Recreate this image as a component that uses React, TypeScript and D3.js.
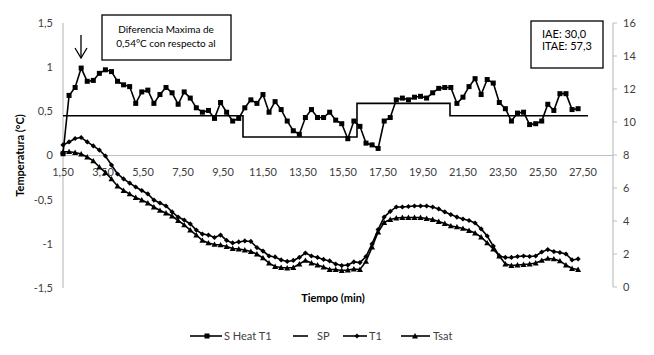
import React from "react";
import * as d3 from "d3";

const W = 654;
const H = 355;

// time of first sample and sampling step (min)
const T0 = 1.5;
const DT = 0.303;

const sHeatT1 = [
  0.02, 0.68, 0.77, 0.99, 0.84, 0.85, 0.93, 0.97, 0.95, 0.84,
  0.80, 0.78, 0.59, 0.72, 0.74, 0.59, 0.69, 0.77, 0.71, 0.58,
  0.72, 0.65, 0.54, 0.49, 0.51, 0.42, 0.60, 0.49, 0.39, 0.42,
  0.54, 0.63, 0.59, 0.69, 0.49, 0.61, 0.52, 0.39, 0.28, 0.24,
  0.43, 0.52, 0.43, 0.43, 0.49, 0.40, 0.36, 0.19, 0.39, 0.33,
  0.14, 0.12, 0.08, 0.39, 0.43, 0.63, 0.65, 0.63, 0.66, 0.67,
  0.65, 0.71, 0.76, 0.77, 0.77, 0.59, 0.66, 0.78, 0.87, 0.69,
  0.86, 0.82, 0.60, 0.53, 0.39, 0.48, 0.49, 0.35, 0.36, 0.39,
  0.58, 0.51, 0.70, 0.70, 0.52, 0.53,
];

const t1 = [
  8.61, 8.79, 9.0, 9.06, 8.79, 8.55, 8.30, 7.94, 7.39, 6.85,
  6.55, 6.30, 6.06, 5.85, 5.64, 5.27, 5.09, 4.91, 4.55, 4.24,
  4.06, 3.82, 3.45, 3.21, 3.15, 3.0, 3.15, 2.82, 2.67, 2.73,
  2.79, 2.76, 2.39, 2.18, 1.88, 1.82, 1.64, 1.55, 1.61, 1.79,
  2.06, 1.88, 1.79, 1.67, 1.58, 1.39, 1.30, 1.33, 1.52, 1.48,
  1.85, 2.61, 3.48, 4.24, 4.58, 4.85, 4.85, 4.88, 4.91, 4.91,
  4.91, 4.85, 4.73, 4.55, 4.39, 4.24, 4.12, 4.03, 3.88, 3.52,
  3.09, 2.48, 1.88, 1.79, 1.79, 1.85, 1.88, 1.85, 1.88, 2.12,
  2.27, 2.15, 2.09, 2.0, 1.64, 1.70,
];

const tSat = [
  8.20, 8.20, 8.15, 8.06, 7.88, 7.64, 7.27, 6.94, 6.55, 6.12,
  5.85, 5.64, 5.42, 5.27, 5.09, 4.85, 4.64, 4.48, 4.30, 4.03,
  3.76, 3.45, 3.15, 2.82, 2.67, 2.58, 2.55, 2.45, 2.33, 2.30,
  2.24, 2.15, 2.0, 1.76, 1.45, 1.24, 1.18, 1.15, 1.18, 1.39,
  1.61, 1.45, 1.33, 1.21, 1.06, 1.06, 1.0, 1.03, 1.09, 1.06,
  1.55, 2.42, 3.33, 3.91, 4.09, 4.18, 4.21, 4.21, 4.21, 4.21,
  4.15, 4.09, 3.97, 3.85, 3.70, 3.64, 3.55, 3.42, 3.27, 3.03,
  2.67, 2.30, 1.88, 1.39, 1.30, 1.33, 1.36, 1.39, 1.45, 1.61,
  1.73, 1.70, 1.58, 1.33, 1.12, 1.06,
];

// set point (step) series
const spTimes = [1.5, 10.5, 10.5, 16.2, 16.2, 20.85, 20.85, 27.75];
const spValues = [0.45, 0.45, 0.21, 0.21, 0.59, 0.59, 0.45, 0.45];

const xTicks = [1.5, 3.5, 5.5, 7.5, 9.5, 11.5, 13.5, 15.5, 17.5, 19.5, 21.5, 23.5, 25.5, 27.5];
const leftTicks = [-1.5, -1, -0.5, 0, 0.5, 1, 1.5];
const rightTicks = [0, 2, 4, 6, 8, 10, 12, 14, 16];

const legendLabels = ["S Heat T1", "SP", "T1", "Tsat"];
const noteLines = ["Diferencia Maxima de", "0,54°C con respecto al"];
const indexLines = ["IAE: 30,0", "ITAE: 57,3"];

const FONT = "Lato, 'Liberation Sans', sans-serif";

const fmt = (v: number, dec: number) => {
  const s = dec > 0 ? v.toFixed(dec) : String(v);
  return s.replace(".", ",");
};

export default function App() {
  const x = d3.scaleLinear().domain([1.5, 29.0]).range([63, 613]);
  const yL = d3.scaleLinear().domain([-1.5, 1.5]).range([288, 23]);
  const yR = d3.scaleLinear().domain([0, 16]).range([287, 23]);

  const times = sHeatT1.map((_, i) => T0 + DT * i);

  const lineL = d3
    .line<[number, number]>()
    .x((d) => x(d[0]))
    .y((d) => yL(d[1]));
  const lineR = d3
    .line<[number, number]>()
    .x((d) => x(d[0]))
    .y((d) => yR(d[1]));

  const sHeatPts: [number, number][] = sHeatT1.map((v, i) => [times[i], v]);
  const t1Pts: [number, number][] = t1.map((v, i) => [times[i], v]);
  const tSatPts: [number, number][] = tSat.map((v, i) => [times[i], v]);
  const spPts: [number, number][] = spValues.map((v, i) => [spTimes[i], v]);

  const square = (cx: number, cy: number, s: number, key: any) => (
    <rect key={key} x={cx - s / 2} y={cy - s / 2} width={s} height={s} fill="#000" />
  );
  const diamond = (cx: number, cy: number, r: number, key: any) => (
    <path key={key} d={`M${cx},${cy - r}L${cx + r},${cy}L${cx},${cy + r}L${cx - r},${cy}Z`} fill="#000" />
  );
  const tri = (cx: number, cy: number, r: number, key: any) => (
    <path key={key} d={`M${cx},${cy - r}L${cx + r},${cy + r * 0.8}L${cx - r},${cy + r * 0.8}Z`} fill="#000" />
  );

  const axisColor = "#bfbfbf";
  const labelColor = "#404040";

  const legendY = 336;

  return (
    <svg
      width={W}
      height={H}
      style={{ position: "absolute", left: 0, top: 0, background: "#fff" }}
      fontFamily={FONT}
    >
      <rect x={0} y={0} width={W} height={H} fill="#fff" />

      {/* axes */}
      <line x1={63} x2={63} y1={yL(1.5)} y2={yL(-1.5)} stroke={axisColor} strokeWidth={1.2} />
      <line x1={613} x2={613} y1={yR(16)} y2={yR(0)} stroke={axisColor} strokeWidth={1.2} />
      <line x1={63} x2={613} y1={yL(0)} y2={yL(0)} stroke={axisColor} strokeWidth={1.2} />
      {rightTicks.map((t) => (
        <line key={"rt" + t} x1={613} x2={617} y1={yR(t)} y2={yR(t)} stroke={axisColor} strokeWidth={1} />
      ))}

      {leftTicks.map((t) => (
        <text key={"lt" + t} x={53} y={yL(t)} dy="0.35em" textAnchor="end" fontSize={11} fill={labelColor}>
          {fmt(t, Number.isInteger(t) ? 0 : 1)}
        </text>
      ))}
      {rightTicks.map((t) => (
        <text key={"rl" + t} x={623} y={yR(t)} dy="0.35em" textAnchor="start" fontSize={11} fill={labelColor}>
          {String(t)}
        </text>
      ))}
      {xTicks.map((t) => (
        <text key={"xt" + t} x={x(t)} y={176} textAnchor="middle" fontSize={11} fill={labelColor}>
          {fmt(t, 2)}
        </text>
      ))}

      {/* axis titles */}
      <text
        transform={`translate(24,${yL(0)}) rotate(-90)`}
        textAnchor="middle"
        fontSize={11}
        fontWeight="bold"
        fill="#000"
      >
        Temperatura (°C)
      </text>
      <text x={333} y={302} textAnchor="middle" fontSize={11} fontWeight="bold" fill="#000">
        Tiempo (min)
      </text>

      {/* series */}
      <path d={lineL(spPts) || ""} fill="none" stroke="#000" strokeWidth={1.6} />
      <path d={lineR(tSatPts) || ""} fill="none" stroke="#000" strokeWidth={1.6} />
      {tSatPts.map((p, i) => tri(x(p[0]), yR(p[1]), 3, "ts" + i))}
      <path d={lineR(t1Pts) || ""} fill="none" stroke="#000" strokeWidth={1.6} />
      {t1Pts.map((p, i) => diamond(x(p[0]), yR(p[1]), 2.6, "t1" + i))}
      <path d={lineL(sHeatPts) || ""} fill="none" stroke="#000" strokeWidth={1.6} />
      {sHeatPts.map((p, i) => square(x(p[0]), yL(p[1]), 5, "sh" + i))}

      {/* annotation box */}
      <rect x={102} y={15} width={129} height={45} fill="#fff" stroke="#000" strokeWidth={1.3} />
      {noteLines.map((s, i) => (
        <text key={"n" + i} x={166} y={29 + i * 14} dy="0.35em" textAnchor="middle" fontSize={10} fill="#000">
          {s}
        </text>
      ))}
      {/* arrow */}
      <line x1={81} x2={81} y1={35} y2={58} stroke="#000" strokeWidth={1.3} />
      <polyline points="75,48 81,58 87,48" fill="none" stroke="#000" strokeWidth={1.3} />

      <rect x={531} y={21} width={72} height={47} fill="#fff" stroke="#000" strokeWidth={1.3} />
      {indexLines.map((s, i) => (
        <text key={"ix" + i} x={542} y={34 + i * 12.5} dy="0.35em" textAnchor="start" fontSize={11} fill="#000">
          {s}
        </text>
      ))}

      {/* legend */}
      <g>
        <line x1={190} x2={222} y1={legendY} y2={legendY} stroke="#000" strokeWidth={1.6} />
        {square(207, legendY, 5, "lg0")}
        <text x={224} y={legendY} dy="0.35em" fontSize={11} fill={labelColor}>{legendLabels[0]}</text>
        <line x1={293} x2={308} y1={legendY} y2={legendY} stroke="#000" strokeWidth={1.6} />
        <text x={317} y={legendY} dy="0.35em" fontSize={11} fill={labelColor}>{legendLabels[1]}</text>
        <line x1={343} x2={367} y1={legendY} y2={legendY} stroke="#000" strokeWidth={1.6} />
        {diamond(357, legendY, 2.6, "lg2")}
        <text x={369} y={legendY} dy="0.35em" fontSize={11} fill={labelColor}>{legendLabels[2]}</text>
        <line x1={401} x2={430} y1={legendY} y2={legendY} stroke="#000" strokeWidth={1.6} />
        {tri(415, legendY, 3, "lg3")}
        <text x={433} y={legendY} dy="0.35em" fontSize={11} fill={labelColor}>{legendLabels[3]}</text>
      </g>
    </svg>
  );
}
